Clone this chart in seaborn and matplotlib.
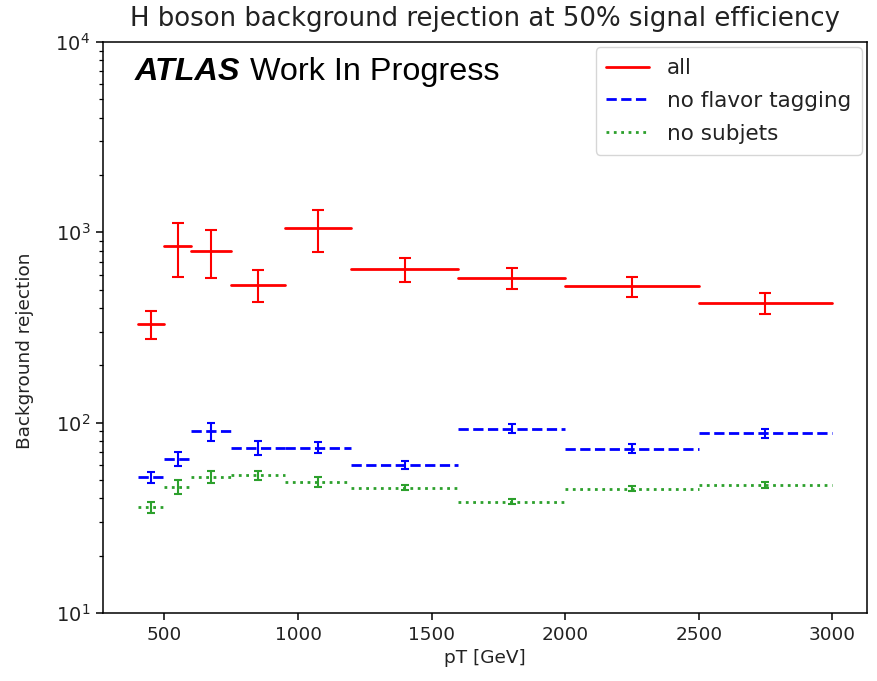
import matplotlib
matplotlib.use("Agg")
import matplotlib.pyplot as plt
from matplotlib.lines import Line2D
import numpy as np
import pandas as pd
import seaborn as sns

# pT bin edges [GeV]
bin_edges = [400, 500, 600, 750, 950, 1200, 1600, 2000, 2500, 3000]

# background rejection at 50% signal efficiency, per pT bin
rej_all = [330, 850, 800, 530, 1050, 640, 575, 520, 425]
err_all = [55, 270, 225, 100, 265, 95, 72, 65, 55]

rej_noflav = [51.5, 64.5, 90, 74, 74, 60, 93, 73, 88]
err_noflav = [3.3, 5.5, 9.5, 6, 5, 3, 5, 4, 5]

rej_nosub = [36, 46, 52, 53, 49, 45.5, 38.5, 45, 47]
err_nosub = [2.5, 4, 4, 3, 3, 1.5, 1, 1.5, 1.5]

series_names = ["all", "no flavor tagging", "no subjets"]

sns.set_style("ticks")
plt.rcParams.update({
    "font.family": ["DejaVu Sans"],
    "axes.edgecolor": "black",
    "axes.linewidth": 1.1,
    "xtick.color": "black",
    "ytick.color": "black",
    "xtick.labelcolor": "#222222",
    "ytick.labelcolor": "#222222",
    "xtick.major.size": 4.8,
    "ytick.major.size": 4.8,
    "xtick.minor.size": 2.7,
    "ytick.minor.size": 2.7,
    "xtick.major.width": 1.1,
    "ytick.major.width": 1.1,
    "ytick.minor.width": 0.9,
    "xtick.major.pad": 4.5,
    "ytick.major.pad": 4.5,
    "text.color": "#222222",
    "axes.labelcolor": "#222222",
})

lo = np.array(bin_edges[:-1], dtype=float)
hi = np.array(bin_edges[1:], dtype=float)
centers = 0.5 * (lo + hi)

values = {"all": rej_all, "no flavor tagging": rej_noflav, "no subjets": rej_nosub}
errors = {"all": err_all, "no flavor tagging": err_noflav, "no subjets": err_nosub}
colors = {"all": "#ff0000", "no flavor tagging": "#0000ff", "no subjets": "#2ca02c"}
dashes = {"all": "", "no flavor tagging": (3.7, 1.6), "no subjets": (1, 1.65)}
caps = {"all": 4, "no flavor tagging": 3, "no subjets": 3}

# long-form table: each bin is a horizontal segment from its low to its high edge
rows = []
for name in series_names:
    for i, v in enumerate(values[name]):
        rows.append({"pT": lo[i], "rej": v, "series": name, "bin": i})
        rows.append({"pT": hi[i], "rej": v, "series": name, "bin": i})
df = pd.DataFrame(rows)

fig = plt.figure(figsize=(8.77, 6.81), dpi=100)
ax = fig.add_axes([0.1175, 0.0999, 0.8711, 0.8385])
ax.set_yscale("log")

sns.lineplot(data=df, x="pT", y="rej", hue="series", style="series",
             units="bin", estimator=None, sort=False,
             palette=colors, dashes=dashes, linewidth=2.0,
             legend=False, ax=ax)

for name in series_names:
    ax.errorbar(centers, values[name], yerr=errors[name], fmt="none",
                ecolor=colors[name], elinewidth=1.5, capsize=caps[name],
                capthick=1.5)

ax.set_ylim(10, 1e4)
ax.margins(x=0.05)
ax.set_xticks([500, 1000, 1500, 2000, 2500, 3000])
ax.tick_params(axis="x", labelsize=13.3)
ax.tick_params(axis="y", labelsize=14)
ax.set_xlabel("pT [GeV]", fontsize=13.3)
ax.set_ylabel("Background rejection", fontsize=13.3)
ax.yaxis.set_label_coords(-0.09, 0.46)
ax.set_title("H boson background rejection at 50% signal efficiency",
             fontsize=18.7, pad=11.5)

ax.text(0.042, 0.933, "ATLAS", transform=ax.transAxes, fontsize=23.3,
        fontweight="bold", fontstyle="italic", family="Liberation Sans",
        color="black", va="baseline")
ax.text(0.192, 0.933, "Work In Progress", transform=ax.transAxes,
        fontsize=23.3, family="Liberation Sans", color="black",
        va="baseline")

handles = [Line2D([], [], color=colors[n], lw=2.0,
                  linestyle="-" if dashes[n] == "" else (0, dashes[n]))
           for n in series_names]
ax.legend(handles, series_names, loc="upper right", fontsize=15.5,
          frameon=True, fancybox=True, framealpha=0.8, edgecolor="#cccccc",
          borderpad=0.5, labelspacing=0.6, handlelength=2.0,
          handletextpad=0.8, borderaxespad=0.25)

fig.savefig("out.png", dpi=100)
